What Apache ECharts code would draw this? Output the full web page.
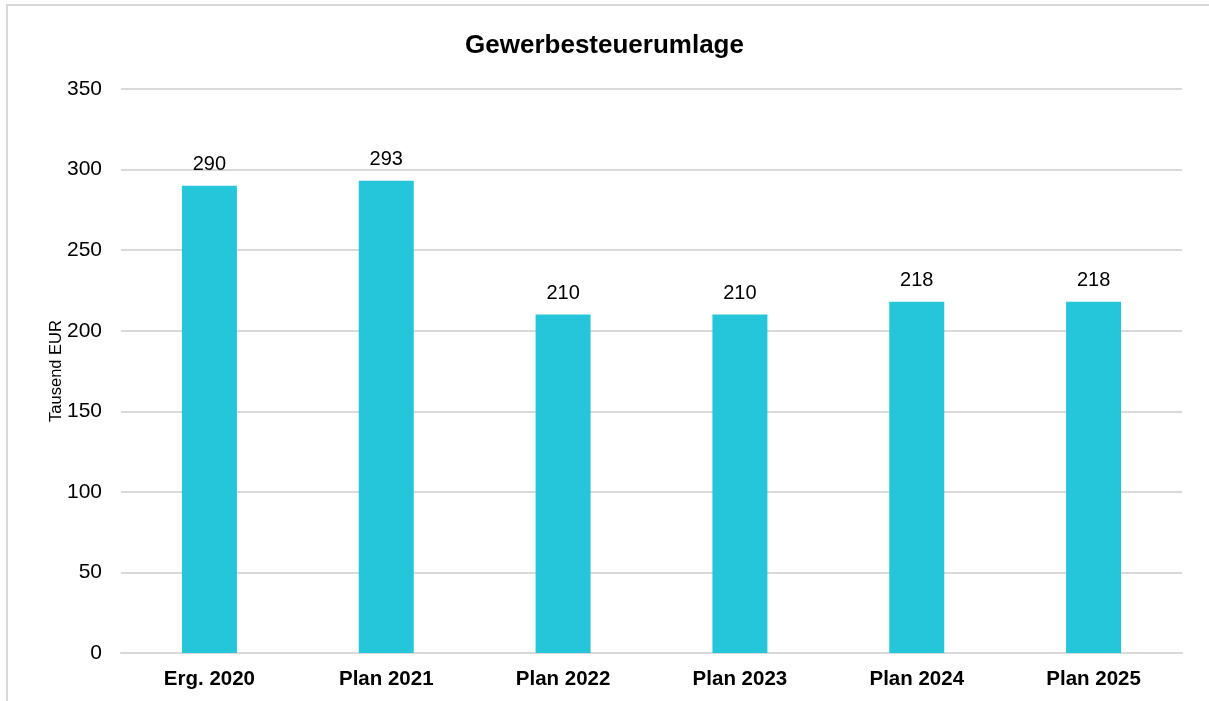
<!DOCTYPE html>
<html>
<head>
<meta charset="utf-8">
<script src="https://cdn.jsdelivr.net/npm/echarts@6/dist/echarts.min.js"></script>
<style>
html, body { margin: 0; padding: 0; background: #fff; }
#main { width: 1209px; height: 701px; }
</style>
</head>
<body>
<div id="main"></div>
<script>
const categories = ['Erg. 2020', 'Plan 2021', 'Plan 2022', 'Plan 2023', 'Plan 2024', 'Plan 2025'];
const values = [290, 293, 210, 210, 218, 218];

const chart = echarts.init(document.getElementById('main'));
chart.setOption({
  animation: false,
  textStyle: { fontFamily: 'Liberation Sans, Arial, sans-serif' },
  title: {
    text: 'Gewerbesteuerumlage',
    left: 'center',
    top: 28,
    textStyle: { fontSize: 26, fontWeight: 'bold', color: '#000' }
  },
  graphic: [
    { type: 'line', shape: { x1: 6, y1: 5, x2: 1209, y2: 5 }, style: { stroke: '#d9d9d9', lineWidth: 2 } },
    { type: 'line', shape: { x1: 7, y1: 4, x2: 7, y2: 701 }, style: { stroke: '#d9d9d9', lineWidth: 2 } }
  ],
  grid: { left: 121, right: 27, top: 89, bottom: 48 },
  xAxis: {
    type: 'category',
    data: categories,
    axisLine: { lineStyle: { color: '#d9d9d9', width: 2 } },
    axisTick: { show: false },
    axisLabel: { fontSize: 20.5, fontWeight: 'bold', color: '#000', margin: 16 }
  },
  yAxis: {
    type: 'value',
    min: 0,
    max: 350,
    interval: 50,
    name: 'Tausend EUR',
    nameLocation: 'middle',
    nameGap: 56,
    nameMoveOverlap: false,
    nameTextStyle: { fontSize: 16.5, color: '#000' },
    axisLine: { show: false },
    axisTick: { show: false },
    axisLabel: { fontSize: 21, color: '#000', margin: 19 },
    splitLine: { lineStyle: { color: '#d9d9d9', width: 2 } }
  },
  series: [{
    type: 'bar',
    data: values,
    barWidth: 55,
    itemStyle: { color: '#26c6da' },
    label: { show: true, position: 'top', distance: 11, fontSize: 20, color: '#000' }
  }]
});
</script>
</body>
</html>
